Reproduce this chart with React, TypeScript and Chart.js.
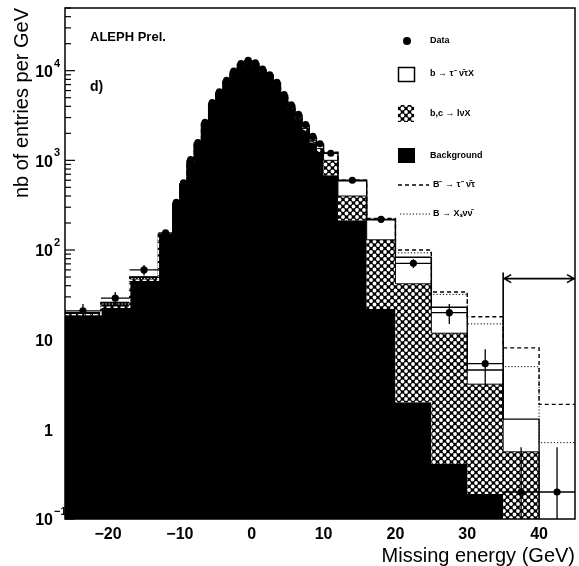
import React, { useEffect, useRef } from 'react';
import { Chart, registerables } from 'chart.js';

Chart.register(...registerables);

// ---- data ----
const binEdges = [-26, -21, -17, -13, -11, -10, -9, -8, -7, -6, -5, -4, -3, -2, -1, 0, 1, 2, 3, 4, 5, 6, 7, 8, 9, 10, 12, 16, 20, 25, 30, 35, 40, 45];

// Background (black)
const background = [20, 26, 50, 150,
  320, 535, 970, 1500, 2520, 4170, 5530, 7470, 9400, 11450, 12400, 11600, 9850, 8550, 6950, 5000, 3800, 2900, 2150, 1550, 1250,
  680, 215, 22, 2.0, 0.41, 0.19, 0.001, 0.001];

// b,c -> l nu X (cross-hatched)
const bcLeptonic = [0, 0, 0, 0,
  5, 8, 15, 25, 40, 65, 85, 115, 150, 170, 190, 190, 170, 160, 150, 130, 130, 120, 120, 110, 100,
  320, 185, 108, 40, 11.4, 3.0, 0.56, 0];

// b -> tau nu X (white)
const bTauNuX = [0, 0, 0, 0,
  5, 7, 15, 25, 40, 65, 85, 115, 150, 180, 210, 210, 180, 190, 200, 170, 170, 180, 180, 140, 150,
  200, 190, 87, 41, 11.2, 1.4, 0.74, 0];

// B- -> tau- nu (dashed)
const bToTauNu = [19, 23, 46, 140,
  320, 535, 970, 1500, 2520, 4170, 5530, 7470, 9400, 11450, 12400, 11600, 9850, 8550, 6950, 5000, 3800, 2900, 2150, 1550, 1250,
  1230, 600, 225, 100, 34, 18, 8.1, 1.9];

// B -> Xs nu nu (dotted)
const bToXsNuNu = [19, 25, 48, 140,
  320, 535, 970, 1500, 2520, 4170, 5530, 7470, 9400, 11450, 12400, 11600, 9850, 8550, 6950, 5000, 3800, 2900, 2150, 1550, 1250,
  1220, 595, 222, 93, 32, 15, 5.0, 0.71];

// Data
const dataValues = [21, 29, 60, 155,
  340, 560, 1020, 1580, 2650, 4400, 5800, 7800, 9900, 12000, 13000, 12200, 10400, 9000, 7400, 5400, 4150, 3250, 2500, 1850, 1530,
  1200, 600, 220, 71, 20, 5.4, 0.2, 0.2];
const dataErrors = [4, 5, 8, 12,
  20, 25, 35, 40, 50, 65, 75, 90, 100, 110, 115, 110, 100, 95, 85, 75, 65, 55, 50, 45, 40,
  50, 30, 15, 8, 5, 2.4, 0.43, 0.43];

const yTickValues = [0.1, 1, 10, 100, 1000, 10000];
const yTickBase = ['10', '1', '10', '10', '10', '10'];
const yTickExp = ['\u22121', '', '', '2', '3', '4'];
const xTickValues = [-20, -10, 0, 10, 20, 30, 40];

const arrowFrom = 35;
const arrowTo = 45;
const arrowLevel = 48;
const markerTop = 56;
const markerBottom = 1.3;

const FONT = "'Liberation Sans', Arial, sans-serif";

function makeHatch(): CanvasPattern | string {
  const c = document.createElement('canvas');
  c.width = 7;
  c.height = 7;
  const g = c.getContext('2d');
  if (!g) return '#555';
  g.fillStyle = '#000';
  g.fillRect(0, 0, 7, 7);
  g.fillStyle = '#fff';
  const holes = [[3.5, 3.5], [0, 0], [7, 0], [0, 7], [7, 7]];
  holes.forEach(([hx, hy]) => {
    g.beginPath();
    g.arc(hx, hy, 1.9, 0, Math.PI * 2);
    g.fill();
  });
  const p = g.createPattern(c, 'repeat');
  return p || '#555';
}

const steps = (vals: number[]) =>
  binEdges.map((x, i) => ({ x, y: vals[Math.min(i, vals.length - 1)] }));

export default function App() {
  const ref = useRef<HTMLCanvasElement>(null);

  useEffect(() => {
    const canvas = ref.current;
    if (!canvas) return;
    const hatch = makeHatch();

    const cumBC = background.map((v, i) => v + bcLeptonic[i]);
    const cumTau = cumBC.map((v, i) => v + bTauNuX[i]);
    const centers = dataValues.map((_, i) => (binEdges[i] + binEdges[i + 1]) / 2);

    const decor = {
      id: 'decor',
      afterDatasetsDraw(chart: any) {
        const { ctx, chartArea: a, scales } = chart;
        const xs = scales.x;
        const ys = scales.y;
        ctx.save();
        ctx.beginPath();
        ctx.rect(a.left, a.top, a.right - a.left, a.bottom - a.top);
        ctx.clip();
        ctx.strokeStyle = '#000';
        ctx.lineWidth = 1.3;
        dataValues.forEach((v, i) => {
          const x0 = xs.getPixelForValue(binEdges[i]);
          const x1 = xs.getPixelForValue(binEdges[i + 1]);
          const cx = xs.getPixelForValue(centers[i]);
          const py = ys.getPixelForValue(v);
          const lo = v - dataErrors[i];
          const hi = v + dataErrors[i];
          const pyLo = lo > 0 ? ys.getPixelForValue(lo) : a.bottom + 5;
          const pyHi = ys.getPixelForValue(hi);
          ctx.beginPath();
          ctx.moveTo(x0, py);
          ctx.lineTo(x1, py);
          ctx.moveTo(cx, pyLo);
          ctx.lineTo(cx, pyHi);
          ctx.stroke();
        });
        // arrow region marker
        const ax0 = xs.getPixelForValue(arrowFrom);
        const ax1 = xs.getPixelForValue(arrowTo);
        const ay = ys.getPixelForValue(arrowLevel);
        ctx.lineWidth = 1.6;
        ctx.beginPath();
        ctx.moveTo(ax0, ys.getPixelForValue(markerTop));
        ctx.lineTo(ax0, ys.getPixelForValue(markerBottom));
        ctx.moveTo(ax0, ay);
        ctx.lineTo(ax1, ay);
        ctx.moveTo(ax0 + 8, ay - 4);
        ctx.lineTo(ax0 + 1, ay);
        ctx.lineTo(ax0 + 8, ay + 4);
        ctx.moveTo(ax1 - 8, ay - 4);
        ctx.lineTo(ax1 - 1, ay);
        ctx.lineTo(ax1 - 8, ay + 4);
        ctx.stroke();
        ctx.restore();
      },
      afterDraw(chart: any) {
        const { ctx, chartArea: a, scales } = chart;
        const ys = scales.y;
        ctx.save();
        ctx.strokeStyle = '#000';
        ctx.fillStyle = '#000';
        // frame
        ctx.lineWidth = 1.5;
        ctx.strokeRect(a.left, a.top, a.right - a.left, a.bottom - a.top);
        // y ticks (inward, log minor)
        ctx.lineWidth = 1.2;
        for (let d = -1; d <= 4; d++) {
          for (let m = 1; m <= 9; m++) {
            const v = m * Math.pow(10, d);
            if (v < ys.min || v > ys.max) continue;
            const py = ys.getPixelForValue(v);
            const len = m === 1 ? 10 : 6;
            ctx.beginPath();
            ctx.moveTo(a.left, py);
            ctx.lineTo(a.left + len, py);
            ctx.stroke();
          }
        }
        // y tick labels with superscripts
        yTickValues.forEach((v, i) => {
          const py = ys.getPixelForValue(v);
          ctx.font = `bold 16px ${FONT}`;
          ctx.textAlign = 'right';
          ctx.textBaseline = 'middle';
          ctx.fillText(yTickBase[i], 53, py + 2);
          if (yTickExp[i]) {
            ctx.font = `bold 11px ${FONT}`;
            ctx.textAlign = 'left';
            ctx.fillText(yTickExp[i], 54, py - 7);
          }
        });
        // annotations
        ctx.textAlign = 'left';
        ctx.textBaseline = 'middle';
        ctx.font = `bold 13px ${FONT}`;
        ctx.fillText('ALEPH Prel.', 90, 37);
        ctx.font = `bold 14px ${FONT}`;
        ctx.fillText('d)', 90, 87);

        // legend
        ctx.font = `bold 9px ${FONT}`;
        ctx.beginPath();
        ctx.arc(407, 41, 4, 0, Math.PI * 2);
        ctx.fill();
        ctx.fillText('Data', 430, 41);

        ctx.lineWidth = 1.5;
        ctx.strokeRect(398.5, 67.5, 16, 14);
        ctx.fillText('b \u2192 \u03c4\u207b \u03bd\u0304\u03c4X', 430, 74);

        ctx.fillStyle = hatch as any;
        ctx.fillRect(398, 105, 16, 17);
        ctx.fillStyle = '#000';
        ctx.fillText('b,c \u2192 l\u03bdX', 430, 114);

        ctx.fillRect(398, 148, 17, 15);
        ctx.fillText('Background', 430, 156);

        ctx.lineWidth = 1.4;
        ctx.setLineDash([4, 3]);
        ctx.beginPath();
        ctx.moveTo(398, 185);
        ctx.lineTo(429, 185);
        ctx.stroke();
        ctx.setLineDash([1.2, 2]);
        ctx.lineWidth = 1;
        ctx.beginPath();
        ctx.moveTo(400, 214);
        ctx.lineTo(430, 214);
        ctx.stroke();
        ctx.setLineDash([]);
        ctx.fillText('B\u207b \u2192 \u03c4\u207b \u03bd\u0304\u03c4', 433, 185);
        ctx.fillText('B \u2192 X\u209b\u03bd\u03bd\u0304', 433, 214);
        ctx.restore();
      },
    };

    const chart = new Chart(canvas, {
      type: 'line',
      data: {
        datasets: [
          {
            label: 'Background',
            data: steps(background),
            stepped: true,
            borderWidth: 0,
            borderColor: '#000',
            backgroundColor: '#000',
            pointRadius: 0,
            fill: 'start',
            order: 10,
          },
          {
            label: 'b,c -> l nu X',
            data: steps(cumBC),
            stepped: true,
            borderWidth: 1,
            borderColor: '#000',
            backgroundColor: hatch as any,
            pointRadius: 0,
            fill: '-1',
            order: 9,
          },
          {
            label: 'b -> tau nu X',
            data: steps(cumTau),
            stepped: true,
            borderWidth: 1.4,
            borderColor: '#000',
            backgroundColor: '#fff',
            pointRadius: 0,
            fill: '-1',
            order: 8,
          },
          {
            label: 'B -> tau nu',
            data: steps(bToTauNu),
            stepped: true,
            borderWidth: 1.4,
            borderColor: '#000',
            borderDash: [4, 3],
            pointRadius: 0,
            fill: false,
            order: 5,
            segment: {
              borderColor: (c: any) => (c.p0.parsed.x < -13 ? '#fff' : '#000'),
            },
          },
          {
            label: 'B -> Xs nu nu',
            data: steps(bToXsNuNu),
            stepped: true,
            borderWidth: 1,
            borderColor: '#000',
            borderDash: [1.2, 2],
            pointRadius: 0,
            fill: false,
            order: 4,
            segment: {
              borderColor: (c: any) => (c.p0.parsed.x < -13 ? '#fff' : '#000'),
            },
          },
          {
            label: 'Data',
            data: dataValues.map((v, i) => ({ x: centers[i], y: v })),
            showLine: false,
            pointRadius: 3.6,
            pointBackgroundColor: '#000',
            pointBorderWidth: 0,
            order: 1,
          },
        ] as any,
      },
      options: {
        responsive: false,
        animation: false,
        devicePixelRatio: 1,
        layout: { padding: { left: 0, right: 1, top: 8, bottom: 0 } },
        plugins: {
          legend: { display: false },
          tooltip: { enabled: false },
          filler: { drawTime: 'beforeDatasetsDraw' },
        } as any,
        scales: {
          x: {
            type: 'linear',
            min: -26,
            max: 45,
            grid: { display: false, drawTicks: false },
            border: { display: false },
            afterBuildTicks: (s: any) => {
              s.ticks = xTickValues.map((v) => ({ value: v }));
            },
            afterFit: (s: any) => {
              s.height = 47;
            },
            ticks: {
              color: '#000',
              font: { family: FONT, size: 16, weight: 'bold' },
              padding: 6,
              maxRotation: 0,
              autoSkip: false,
              callback: (v: any) => (Number(v) < 0 ? '\u2212' + Math.abs(Number(v)) : String(v)),
            },
            title: {
              display: true,
              text: 'Missing energy (GeV)',
              align: 'end',
              color: '#000',
              font: { family: FONT, size: 20, lineHeight: 1 },
              padding: { top: 0, bottom: 0 },
            },
          },
          y: {
            type: 'logarithmic',
            min: 0.1,
            max: 50000,
            grid: { display: false, drawTicks: false },
            border: { display: false },
            ticks: { display: false },
            afterBuildTicks: (s: any) => {
              s.ticks = yTickValues.map((v) => ({ value: v }));
            },
            afterFit: (s: any) => {
              s.width = 65;
            },
            title: {
              display: true,
              text: 'nb of entries per GeV',
              align: 'end',
              color: '#000',
              font: { family: FONT, size: 20, lineHeight: 1.2 },
              padding: { top: 10, bottom: 0 },
            },
          },
        } as any,
      },
      plugins: [decor],
    });
    return () => chart.destroy();
  }, []);

  return (
    <div style={{ position: 'fixed', left: 0, top: 0, width: 579, height: 566, background: '#fff' }}>
      <canvas ref={ref} width={579} height={566} style={{ display: 'block', width: 579, height: 566 }} />
    </div>
  );
}
